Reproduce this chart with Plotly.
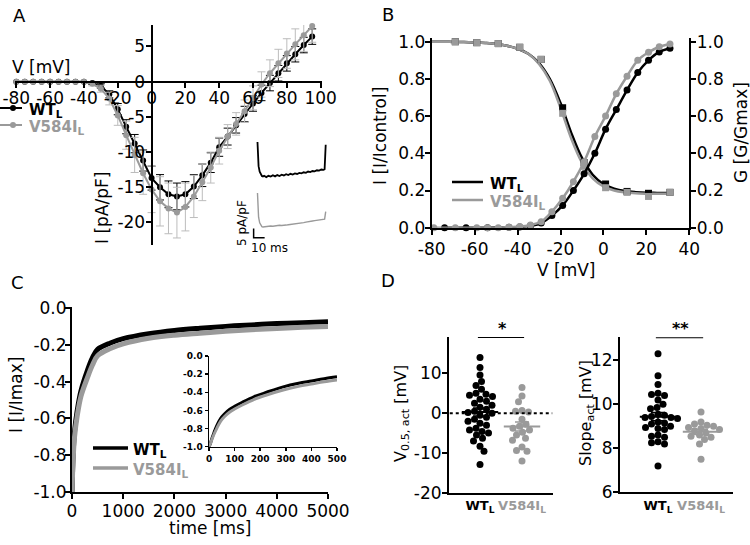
import plotly.graph_objects as go

W, H = 750, 545
def PX(x): return x / W
def PY(y): return 1 - y / H

FONT = "DejaVu Sans"
BLACK = "#000000"
GRAY = "#9a9a9a"
GRAY_ERR = "#bcbcbc"

# ---------------- Panel A : I-V ----------------
a_v = [-80, -75, -70, -65, -60, -55, -50, -45, -40, -35, -30, -25, -20, -15, -10, -5, 0, 5,
       10, 15, 20, 25, 30, 35, 40, 45, 50, 55, 60, 65, 70, 75, 80, 85, 90, 95]
a_wt = [0, 0, 0, 0, 0, 0, 0, 0, 0, -0.2, -0.6, -1.8, -3.9, -6.4, -8.8, -11.2, -13.7, -15.0,
        -16.0, -16.3, -16.0, -14.9, -13.3, -11.5, -9.3, -7.8, -6.2, -4.6, -3.1, -1.6, -0.2,
        1.2, 2.6, 3.9, 5.2, 6.4]
a_wt_err = [0, 0, 0, 0, 0, 0, 0, 0, 0, 0.2, 0.3, 0.5, 0.8, 1.0, 1.3, 1.5, 1.7, 1.8,
            1.9, 1.9, 1.8, 1.7, 1.6, 1.4, 1.3, 1.2, 1.1, 1.1, 1.1, 1.1, 1.1, 1.1, 1.1, 1.1, 1.1, 1.1]
a_mut = [0, 0, 0, 0, 0, 0, 0, 0, 0, -0.3, -1.0, -2.4, -4.8, -7.6, -10.4, -13.0, -15.3, -17.0,
         -18.0, -18.6, -17.8, -16.3, -14.3, -12.2, -9.8, -7.8, -6.0, -4.2, -2.3, -0.4, 1.2,
         2.6, 4.0, 5.3, 6.6, 7.9]
a_mut_err = [0, 0, 0, 0, 0, 0, 0, 0, 0, 0.3, 0.5, 0.9, 1.4, 2.0, 2.5, 3.0, 3.3, 3.5,
             3.6, 3.6, 3.4, 3.0, 2.6, 2.2, 1.9, 1.7, 1.6, 1.6, 1.7, 1.8, 1.9, 2.0, 2.1, 2.2, 2.3, 2.3]
a_xticks = [-80, -60, -40, -20, 0, 20, 40, 60, 80, 100]
a_yticks = [-20, -15, -10, -5, 0, 5]

# example current traces (inset of A): time [ms], current [pA/pF]
tr_t = [0, 0.5, 1, 2, 3, 4, 5, 6, 8, 10, 12, 14, 16, 18, 20, 22, 24, 26, 28, 30, 32, 34, 36,
        38, 40, 42, 44, 46, 48, 50, 52, 54, 56, 58, 60, 61, 61.5, 62]
tr_wt = [0, -8, -13, -16, -17.5, -18.3, -18.6, -18.2, -18.9, -18.2, -18.6, -17.9, -18.5, -17.8,
         -18.3, -17.6, -18.0, -17.3, -17.8, -17.1, -17.5, -16.9, -17.2, -16.6, -16.9, -16.3,
         -16.6, -15.9, -16.2, -15.6, -15.8, -15.2, -15.4, -14.8, -15.0, -14.6, -8, -1.5]
tr_mut = [0, -8, -13, -16, -17.3, -18.0, -18.2, -18.1, -17.9, -18.0, -17.7, -17.8, -17.5, -17.6,
          -17.3, -17.4, -17.1, -17.2, -17.0, -16.9, -16.7, -16.6, -16.4, -16.3, -16.0, -15.9,
          -15.6, -15.5, -15.2, -15.0, -14.8, -14.6, -14.4, -14.3, -14.1, -14.0, -12, -10]
scale_ms = 10
scale_pApF = 5

# ---------------- Panel B : activation / inactivation ----------------
b_act_v_wt = [-74, -64, -54, -44, -39, -34, -29, -24, -19, -14, -9, -4, 1, 6, 11, 16, 21, 26, 31]
b_act_wt = [0, 0, 0, 0.002, 0.004, 0.01, 0.025, 0.065, 0.12, 0.2, 0.29, 0.40, 0.53, 0.635,
            0.74, 0.835, 0.90, 0.945, 0.965]
b_act_v_mut = [-79, -69, -59, -54, -49, -44, -39, -34, -29, -24, -19, -14, -9, -4, 1, 6, 11,
               16, 21, 26, 31]
b_act_mut = [0, 0, 0, 0, 0, 0.003, 0.006, 0.015, 0.032, 0.086, 0.158, 0.247, 0.355, 0.49,
             0.60, 0.72, 0.815, 0.90, 0.943, 0.973, 0.988]
b_inact_v = [-69, -59, -49, -39, -29, -19, -9, 1, 11, 21, 31]
b_inact_wt = [1.0, 0.995, 0.99, 0.97, 0.905, 0.645, 0.35, 0.235, 0.195, 0.185, 0.19]
b_inact_mut = [1.0, 0.995, 0.99, 0.97, 0.905, 0.615, 0.33, 0.215, 0.19, 0.168, 0.19]
b_fit_v = [-80, -75, -70, -65, -60, -55, -50, -45, -40, -35, -30, -25, -20, -15, -10, -5, 0,
           5, 10, 15, 20, 25, 31]
b_fit_inact_wt = [1.0, 1.0, 0.999, 0.998, 0.996, 0.993, 0.988, 0.978, 0.962, 0.935, 0.885,
                  0.80, 0.67, 0.51, 0.375, 0.285, 0.235, 0.21, 0.197, 0.191, 0.188, 0.187, 0.186]
b_fit_inact_mut = [1.0, 1.0, 0.999, 0.998, 0.996, 0.993, 0.988, 0.978, 0.962, 0.935, 0.88,
                   0.79, 0.645, 0.48, 0.35, 0.265, 0.222, 0.2, 0.19, 0.185, 0.183, 0.182, 0.182]
b_xticks = [-80, -60, -40, -20, 0, 20, 40]
b_yticks = [0.0, 0.2, 0.4, 0.6, 0.8, 1.0]

# ---------------- Panel C : inactivation time course ----------------
c_t = [0, 5, 15, 30, 50, 100, 175, 300, 400, 500, 750, 1000, 1500, 2000, 2500, 3000, 3500,
       4000, 4500, 5000]
c_wt = [-1.0, -0.95, -0.85, -0.75, -0.67, -0.56, -0.45, -0.34, -0.27, -0.225, -0.19, -0.167,
        -0.14, -0.122, -0.11, -0.1, -0.092, -0.085, -0.08, -0.075]
c_mut = [-1.0, -0.96, -0.87, -0.78, -0.70, -0.59, -0.48, -0.38, -0.31, -0.26, -0.22, -0.195,
         -0.165, -0.148, -0.137, -0.127, -0.118, -0.111, -0.105, -0.1]
c_in_t = [0, 5, 10, 20, 30, 45, 60, 80, 100, 130, 175, 225, 290, 350, 400, 450, 500]
c_in_wt = [-1.0, -0.97, -0.92, -0.84, -0.77, -0.69, -0.64, -0.59, -0.555, -0.51, -0.45, -0.40,
           -0.34, -0.30, -0.275, -0.25, -0.23]
c_in_mut = [-1.0, -0.97, -0.93, -0.86, -0.80, -0.72, -0.67, -0.62, -0.585, -0.54, -0.48,
            -0.43, -0.375, -0.335, -0.31, -0.285, -0.265]
c_xticks = [0, 1000, 2000, 3000, 4000, 5000]
c_yticks = [-1.0, -0.8, -0.6, -0.4, -0.2, 0.0]
c_in_xticks = [0, 100, 200, 300, 400, 500]

# ---------------- Panel D : V0.5 and slope ----------------
d_v05_wt = [14, 11.5, 9.6, 8, 7, 6, 5, 4.8, 4.5, 4.2, 3.5, 3, 2.5, 2, 1.5, 1, 0.5, 0.2, 0,
            -0.5, -1, -1.5, -2, -2.5, -3, -3.8, -4.2, -4.6, -5, -5.5, -6.3, -7, -8.3, -9.6, -12.9]
d_v05_mut = [6.5, 4.3, 2.9, 0.7, 0.5, 0.3, -1.5, -2.8, -3.3, -3.8, -4.2, -4.8, -5.5, -6.3,
             -6.8, -8.5, -9.4, -9.6, -12]
d_slope_wt = [12.3, 11.3, 10.9, 10.5, 10.45, 10.4, 10.2, 10.0, 9.85, 9.8, 9.55, 9.5, 9.45, 9.4,
              9.4, 9.35, 9.2, 9.15, 9.1, 9.0, 8.95, 8.9, 8.85, 8.6, 8.55, 8.5, 8.3, 8.25, 8.2, 7.2]
d_slope_mut = [9.65, 9.2, 9.1, 9.05, 9.0, 8.95, 8.9, 8.85, 8.8, 8.7, 8.6, 8.55, 8.5, 8.4, 8.2, 7.5]
d_cats = ["<b>WT<sub>L</sub></b>", "<b><span style='color:#9a9a9a'>V584I<sub>L</sub></span></b>"]
d_v05_ticks = [-20, -10, 0, 10]
d_slope_ticks = [6, 8, 10, 12]


def swarm_offsets(vals, ppu_y, ppu_x, d):
    placed, res = [], [0.0] * len(vals)
    for i in sorted(range(len(vals)), key=lambda j: -vals[j]):
        y = vals[i] * ppu_y
        step, chosen = 0, None
        while chosen is None:
            cands = [0.0] if step == 0 else ([step * 0.5, -step * 0.5] if i % 2 else [-step * 0.5, step * 0.5])
            for c in cands:
                if all((c - px) ** 2 + (y - py) ** 2 >= d * d for px, py in placed):
                    chosen = c
                    break
            step += 1
        placed.append((chosen, y))
        res[i] = chosen / ppu_x
    return res


def mean_sem(v):
    n = len(v)
    m = sum(v) / n
    sd = (sum((x - m) ** 2 for x in v) / (n - 1)) ** 0.5
    return m, sd / n ** 0.5


fig = go.Figure()

# ---- A traces
fig.add_trace(go.Scatter(x=a_v, y=a_wt, mode="lines+markers", xaxis="x", yaxis="y",
                         line=dict(color=BLACK, width=2), marker=dict(color=BLACK, size=6),
                         error_y=dict(type="data", array=a_wt_err, color=BLACK, thickness=1, width=4),
                         cliponaxis=False))
fig.add_trace(go.Scatter(x=a_v, y=a_mut, mode="lines+markers", xaxis="x", yaxis="y",
                         line=dict(color=GRAY, width=2), marker=dict(color=GRAY, size=6),
                         error_y=dict(type="data", array=a_mut_err, color=GRAY_ERR, thickness=1, width=4),
                         cliponaxis=False))
# inset traces
fig.add_trace(go.Scatter(x=tr_t, y=tr_wt, mode="lines", xaxis="x8", yaxis="y8",
                         line=dict(color=BLACK, width=1.8), cliponaxis=False))
fig.add_trace(go.Scatter(x=tr_t, y=tr_mut, mode="lines", xaxis="x9", yaxis="y9",
                         line=dict(color=GRAY, width=1.4), cliponaxis=False))
sb_x, sb_y = -3.5, -19.0 - scale_pApF
fig.add_trace(go.Scatter(x=[sb_x, sb_x, sb_x + scale_ms], y=[sb_y + scale_pApF, sb_y, sb_y],
                         mode="lines", xaxis="x9", yaxis="y9", line=dict(color=BLACK, width=1.5),
                         cliponaxis=False))

# ---- B traces
fig.add_trace(go.Scatter(x=b_fit_v, y=b_fit_inact_wt, mode="lines", line_shape="spline",
                         xaxis="x2", yaxis="y2", line=dict(color=BLACK, width=2.5), cliponaxis=False))
fig.add_trace(go.Scatter(x=b_fit_v, y=b_fit_inact_mut, mode="lines", line_shape="spline",
                         xaxis="x2", yaxis="y2", line=dict(color=GRAY, width=2.5), cliponaxis=False))
fig.add_trace(go.Scatter(x=b_inact_v, y=b_inact_wt, mode="markers", xaxis="x2", yaxis="y2",
                         marker=dict(color=BLACK, size=7, symbol="square"), cliponaxis=False))
fig.add_trace(go.Scatter(x=b_inact_v, y=b_inact_mut, mode="markers", xaxis="x2", yaxis="y2",
                         marker=dict(color=GRAY, size=7, symbol="square"), cliponaxis=False))
fig.add_trace(go.Scatter(x=b_act_v_wt, y=b_act_wt, mode="lines+markers", line_shape="spline",
                         xaxis="x2", yaxis="y3", line=dict(color=BLACK, width=2.5),
                         marker=dict(color=BLACK, size=7), cliponaxis=False))
fig.add_trace(go.Scatter(x=b_act_v_mut, y=b_act_mut, mode="lines+markers", line_shape="spline",
                         xaxis="x2", yaxis="y3", line=dict(color=GRAY, width=2.5),
                         marker=dict(color=GRAY, size=7), cliponaxis=False))

# ---- C traces
fig.add_trace(go.Scatter(x=c_t, y=c_wt, mode="lines", line_shape="spline", xaxis="x4", yaxis="y4",
                         line=dict(color=BLACK, width=5), cliponaxis=False))
fig.add_trace(go.Scatter(x=c_t, y=c_mut, mode="lines", line_shape="spline", xaxis="x4", yaxis="y4",
                         line=dict(color=GRAY, width=5), cliponaxis=False))
fig.add_trace(go.Scatter(x=c_in_t, y=c_in_wt, mode="lines", line_shape="spline", xaxis="x5", yaxis="y5",
                         line=dict(color=BLACK, width=3), cliponaxis=False))
fig.add_trace(go.Scatter(x=c_in_t, y=c_in_mut, mode="lines", line_shape="spline", xaxis="x5", yaxis="y5",
                         line=dict(color=GRAY, width=3), cliponaxis=False))

# ---- D traces
def add_strip(vals, cat, color, xa, ya, ppu_y, ppu_x):
    offs = swarm_offsets(vals, ppu_y, ppu_x, 6.5)
    fig.add_trace(go.Scatter(x=[cat + o for o in offs], y=vals, mode="markers", xaxis=xa, yaxis=ya,
                             marker=dict(color=color, size=7), cliponaxis=False))
    m, s = mean_sem(vals)
    fig.add_trace(go.Scatter(x=[cat], y=[m], mode="markers", xaxis=xa, yaxis=ya,
                             marker=dict(symbol="line-ew", size=26, line=dict(color=color, width=2)),
                             error_y=dict(type="data", array=[s], color=color, thickness=1.5, width=7),
                             cliponaxis=False))

add_strip(d_v05_wt, 0, BLACK, "x6", "y6", 3.97, 42)
add_strip(d_v05_mut, 1, GRAY, "x6", "y6", 3.97, 42)
add_strip(d_slope_wt, 0, BLACK, "x7", "y7", 22, 43)
add_strip(d_slope_mut, 1, GRAY, "x7", "y7", 22, 43)

# ---------------- axes ----------------
TICK = 17

def ax(**kw):
    base = dict(showgrid=False, zeroline=False, showline=True, linecolor=BLACK, linewidth=2,
                ticks="outside", ticklen=5, tickwidth=2, tickcolor=BLACK, automargin=False,
                tickangle=0, tickfont=dict(family=FONT, size=TICK, color=BLACK))
    base.update(kw)
    return base

def fmt(v, nd=0):
    return f"{v:.{nd}f}"

# A
a_x0, a_x1 = -81, 100.5
a_y0, a_y1 = -23.2, 8.05
a_dom_x = [PX(14.6), PX(321.5)]
a_dom_y = [PY(245), PY(25)]
ypos0 = a_dom_y[0] + (0 - a_y0) / (a_y1 - a_y0) * (a_dom_y[1] - a_dom_y[0])
xpos0 = a_dom_x[0] + (0 - a_x0) / (a_x1 - a_x0) * (a_dom_x[1] - a_dom_x[0])
inv = dict(visible=False, automargin=False)
layout = dict(
    xaxis=ax(domain=a_dom_x, range=[a_x0, a_x1], anchor="free", position=ypos0,
             tickvals=a_xticks, ticktext=[fmt(v) for v in a_xticks], ticklabelstandoff=-4),
    yaxis=ax(domain=a_dom_y, range=[a_y0, a_y1], anchor="free", position=xpos0,
             tickvals=a_yticks, ticktext=[fmt(v) for v in a_yticks], ticklabelstandoff=-3),
    # B
    xaxis2=ax(domain=[PX(431.7), PX(689.3)], range=[-80, 40], anchor="y2",
              tickvals=b_xticks, ticktext=[fmt(v) for v in b_xticks]),
    yaxis2=ax(domain=[PY(227.7), PY(38)], range=[0, 1.02], anchor="x2",
              tickvals=b_yticks, ticktext=[fmt(v, 1) for v in b_yticks], ticklabelstandoff=-4),
    yaxis3=ax(domain=[PY(227.7), PY(38)], range=[0, 1.02], anchor="x2", overlaying="y2", side="right",
              tickvals=b_yticks, ticktext=[fmt(v, 1) for v in b_yticks], ticklabelstandoff=-3),
    # C
    xaxis4=ax(domain=[PX(72), PX(328)], range=[0, 5000], anchor="y4",
              tickvals=c_xticks, ticktext=[fmt(v) for v in c_xticks], ticklabelstandoff=-2),
    yaxis4=ax(domain=[PY(492), PY(306.5)], range=[-1, 0.008], anchor="x4",
              tickvals=c_yticks, ticktext=[fmt(v, 1) for v in c_yticks], ticklabelstandoff=-5),
    xaxis5=ax(domain=[PX(209), PX(337)], range=[0, 500], anchor="y5", linewidth=1.5, tickwidth=1.5,
              ticklen=3, tickvals=c_in_xticks, ticktext=[fmt(v) for v in c_in_xticks],
              tickfont=dict(family=FONT, size=9, weight="bold", color=BLACK)),
    yaxis5=ax(domain=[PY(446.7), PY(356)], range=[-1, 0], anchor="x5", linewidth=1.5, tickwidth=1.5,
              ticklen=3, tickvals=c_yticks, ticktext=[fmt(v, 1) for v in c_yticks],
              tickfont=dict(family=FONT, size=9, weight="bold", color=BLACK)),
    # D
    xaxis6=ax(domain=[PX(449), PX(553)], range=[-0.738, 1.738], anchor="y6", ticks="",
              tickvals=[0, 1], ticktext=d_cats, tickfont=dict(family=FONT, size=13, color=BLACK)),
    yaxis6=ax(domain=[PY(492.7), PY(336.9)], range=[-20, 19.2], anchor="x6",
              tickvals=d_v05_ticks, ticktext=[fmt(v) for v in d_v05_ticks], ticklabelstandoff=-3),
    xaxis7=ax(domain=[PX(620), PX(733)], range=[-0.884, 1.744], anchor="y7", ticks="",
              tickvals=[0, 1], ticktext=d_cats, tickfont=dict(family=FONT, size=13, color=BLACK)),
    yaxis7=ax(domain=[PY(492.3), PY(337.2)], range=[6, 13.05], anchor="x7",
              tickvals=d_slope_ticks, ticktext=[fmt(v) for v in d_slope_ticks], ticklabelstandoff=-3),
    # A inset (hidden axes)
    xaxis8=dict(domain=[PX(250), PX(330)], range=[-6.8, 65.9], anchor="y8", **inv),
    yaxis8=dict(domain=[PY(250), PY(138)], range=[-58.1, 2.15], anchor="x8", **inv),
    xaxis9=dict(domain=[PX(250), PX(330)], range=[-6.8, 65.9], anchor="y9", **inv),
    yaxis9=dict(domain=[PY(250), PY(138)], range=[-30.6, 29.6], anchor="x9", **inv),
)

shapes = []
annotations = []

def ann(x, y, text, size=16, color=BLACK, angle=0, xanchor="center", yanchor="middle", weight="normal"):
    annotations.append(dict(x=PX(x), y=PY(y), xref="paper", yref="paper", text=text, showarrow=False,
                            textangle=angle, xanchor=xanchor, yanchor=yanchor,
                            font=dict(family=FONT, size=size, color=color, weight=weight)))

def pline(x0, y0, x1, y1, color, width):
    shapes.append(dict(type="line", xref="paper", yref="paper", x0=PX(x0), y0=PY(y0), x1=PX(x1),
                       y1=PY(y1), line=dict(color=color, width=width)))

def pcircle(cx, cy, r, color):
    shapes.append(dict(type="circle", xref="paper", yref="paper", x0=PX(cx - r), x1=PX(cx + r),
                       y0=PY(cy + r), y1=PY(cy - r), fillcolor=color, line=dict(color=color, width=0)))

WT_TXT = "<b>WT<sub>L</sub></b>"
MUT_TXT = "<b>V584I<sub>L</sub></b>"

# panel letters
ann(19, 15, "A", 18)
ann(388, 14, "B", 18)
ann(17, 282, "C", 18)
ann(388, 280, "D", 18)

# A titles & legend
ann(41, 67, "V [mV]", 17)
ann(102, 208, "I [pA/pF]", 17, angle=-90)
pline(0, 108, 22, 108, BLACK, 2); pcircle(13, 108, 3, BLACK)
ann(27, 110, WT_TXT, 15, BLACK, xanchor="left")
pline(0, 125, 22, 125, GRAY, 2); pcircle(13, 125, 3, GRAY)
ann(27, 127, MUT_TXT, 15, GRAY, xanchor="left")
ann(242, 223, "5 pA/pF", 12, angle=-90)
ann(269, 248, "10 ms", 12)

# B titles & legend
ann(380, 136, "I [I/Icontrol]", 17, angle=-90)
ann(741, 133, "G [G/Gmax]", 17, angle=-90)
ann(566, 270, "V [mV]", 17)
pline(452, 182, 483, 182, BLACK, 2.5)
ann(488, 184, WT_TXT, 15, BLACK, xanchor="left")
pline(452, 200, 483, 200, GRAY, 2.5)
ann(488, 202, MUT_TXT, 15, GRAY, xanchor="left")

# C titles & legend
ann(16, 395, "I [I/Imax]", 17, angle=-90)
ann(210, 528, "time [ms]", 17)
pline(93, 448, 128, 448, BLACK, 3.5)
ann(131, 450, WT_TXT, 15, BLACK, xanchor="left")
pline(93, 468, 128, 468, GRAY, 3.5)
ann(131, 470, MUT_TXT, 15, GRAY, xanchor="left")

# D titles, significance
ann(401, 413, "V<sub>0.5, act</sub> [mV]", 16, angle=-90)
ann(586, 413, "Slope<sub>act</sub> [mV]", 16, angle=-90)
shapes.append(dict(type="line", xref="x6", yref="y6", x0=-0.05, x1=1.05, y0=19.2, y1=19.2,
                   line=dict(color=BLACK, width=2)))
shapes.append(dict(type="line", xref="x6", yref="y6", x0=-0.72, x1=1.72, y0=0, y1=0,
                   line=dict(color=BLACK, width=2, dash="dot")))
shapes.append(dict(type="line", xref="x7", yref="y7", x0=-0.05, x1=1.05, y0=13.05, y1=13.05,
                   line=dict(color=BLACK, width=2)))
ann(502, 328, "*", 16, weight="bold")
ann(680, 328, "**", 16, weight="bold")

fig.update_layout(**layout)
fig.update_layout(template="none", width=W, height=H, margin=dict(l=0, r=0, t=0, b=0, pad=0),
                  showlegend=False, paper_bgcolor="white", plot_bgcolor="rgba(0,0,0,0)",
                  hovermode=False,
                  font=dict(family=FONT, color=BLACK), shapes=shapes, annotations=annotations)
fig.write_html("out.html", config={"displayModeBar": False, "staticPlot": True},
               post_script="document.body.style.margin='0px';")
